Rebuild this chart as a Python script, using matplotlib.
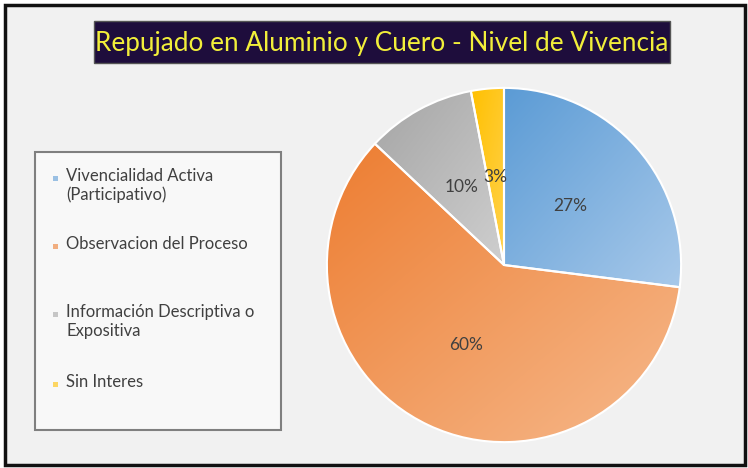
import numpy as np
import matplotlib
matplotlib.use("Agg")
import matplotlib.pyplot as plt
from matplotlib.patches import Rectangle
from matplotlib.colors import to_rgb

title = "Repujado en Aluminio y Cuero - Nivel de Vivencia"
categories = ["Vivencialidad Activa\n(Participativo)", "Observacion del Proceso",
              "Información Descriptiva o\nExpositiva", "Sin Interes"]
values = [27, 60, 10, 3]
dark_colors = ["#5b9bd5", "#ed7d31", "#a5a5a5", "#ffc000"]
light_colors = ["#a8c9ea", "#f6b98c", "#cfcfcf", "#ffd24d"]

W, H = 748, 468
fig = plt.figure(figsize=(W / 100, H / 100), dpi=100)
fig.patch.set_facecolor("white")
FONT = ["Lato", "DejaVu Sans"]

def fx(x): return x / W
def fy(y): return 1 - y / H

# outer frame
fig.patches.append(Rectangle((fx(5), fy(465)), 740 / W, 460 / H,
                             transform=fig.transFigure, facecolor="#f1f1f1",
                             edgecolor="#111111", lw=2.5, zorder=-2))
# title box
fig.patches.append(Rectangle((fx(94), fy(63)), (670 - 94) / W, (63 - 21) / H,
                             transform=fig.transFigure, facecolor="#1e0d3c",
                             edgecolor="#555555", lw=1, zorder=-1))
fig.text(fx(382), fy(43), title, color="#f2ef3a", fontsize=18.8, family=FONT,
         ha="center", va="center", zorder=2)

# legend box
fig.patches.append(Rectangle((fx(35), fy(430)), (281 - 35) / W, (430 - 152) / H,
                             transform=fig.transFigure, facecolor="#f8f8f8",
                             edgecolor="#7f7f7f", lw=1.5, zorder=-1))
item_centers = [178, 246, 314, 384]
for lab, c, yc in zip(categories, dark_colors, item_centers):
    fig.patches.append(Rectangle((fx(53), fy(yc + 3)), 5 / W, 5 / H,
                                 transform=fig.transFigure, facecolor=c,
                                 edgecolor="none", alpha=0.6, zorder=2))
    fig.text(fx(66), fy(yc - 10), lab, color="#404040", fontsize=12, family=FONT,
             ha="left", va="top", linespacing=1.2, zorder=2)

# pie
cx, cy, r = 504, 265, 178
ax = fig.add_axes([fx(cx - r), fy(cy + r), 2 * r / W, 2 * r / H])
ax.set_aspect("equal")
ax.axis("off")
wedges, texts, autotexts = ax.pie(values, startangle=90, counterclock=False,
                                  radius=1, colors=dark_colors,
                                  autopct="%1.0f%%", pctdistance=0.5,
                                  wedgeprops=dict(edgecolor="white", linewidth=1.5),
                                  textprops=dict(color="#404040", fontsize=12.5, family=FONT))

# gradient fills clipped to each wedge
for w, c0, c1 in zip(wedges, dark_colors, light_colors):
    verts = w.get_path().vertices
    x0, x1 = verts[:, 0].min(), verts[:, 0].max()
    y0, y1 = verts[:, 1].min(), verts[:, 1].max()
    n = 200
    xs = np.linspace(0, 1, n)[None, :]
    ys = np.linspace(0, 1, n)[:, None]
    t = (xs + ys) / 2
    a, b = np.array(to_rgb(c0)), np.array(to_rgb(c1))
    img = a[None, None, :] * (1 - t[..., None]) + b[None, None, :] * t[..., None]
    im = ax.imshow(img, extent=[x0, x1, y0, y1], origin="upper", zorder=0.5,
                   aspect="auto", interpolation="bilinear")
    im.set_clip_path(w)
    w.set_facecolor("none")
    w.set_zorder(1)
for t in autotexts:
    t.set_zorder(3)
ax.set_xlim(-1.005, 1.005); ax.set_ylim(-1.005, 1.005)

fig.savefig("out.png", dpi=100, facecolor=fig.get_facecolor())
